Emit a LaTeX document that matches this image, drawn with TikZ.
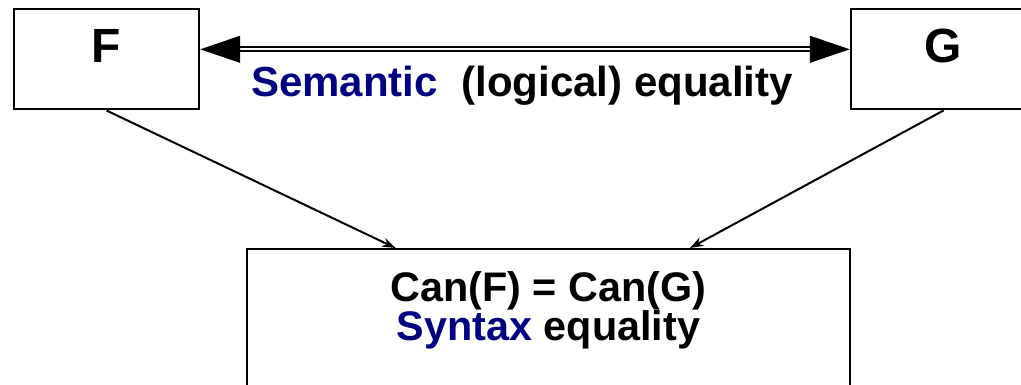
\documentclass[tikz,border=0pt]{standalone}
\usepackage{fontspec}
\setmainfont{Liberation Sans}
\usetikzlibrary{arrows.meta, calc, positioning}
\definecolor{semblue}{RGB}{0,0,128}

\begin{document}
\begin{tikzpicture}[x=0.75pt, y=-0.75pt,
        term/.style={rectangle, draw=black, line width=1.5pt, minimum width=139pt, minimum height=75pt, inner sep=0pt, font=\fontsize{36}{40}\selectfont\bfseries, text height=26.25pt, text depth=21pt},
        canbox/.style={rectangle, draw=black, line width=1.5pt, minimum width=452pt, align=center, inner xsep=0pt, inner ysep=16.5pt, font=\fontsize{31}{29.25}\selectfont\bfseries, text height=51.75pt, text depth=75pt},
        label/.style={inner sep=0pt, font=\fontsize{31.5}{36}\selectfont\bfseries},
        arrow/.style={line width=1.5pt, -{Stealth[length=10pt, width=7pt]}},
        eqarrow/.style={line width=1.5pt, double, double distance=1.5pt, {Triangle[length=30pt, width=20pt]}-{Triangle[length=30pt, width=20pt]}}]

        \useasboundingbox (0,0) rectangle (1021,385);
        \clip (0,0) rectangle (1021,385);

        % Formeln F und G
        \node (F) [term] at (106.5,59.5) {F};
        \node (G) [term] at (943.5,59.5) {G};

        % kanonische Form
        \node (can) [canbox, anchor=north] at (548.5,248) {Can(F) = Can(G)\\\textcolor{semblue}{Syntax} equality};

        % Pfeile
        \draw [eqarrow] ($(F.north east)!0.4!(F.south east)$) -- ($(G.north west)!0.4!(G.south west)$);
        \node (sem) [label, anchor=base west] at (251,97) {\textcolor{semblue}{Semantic}\ \ (logical) equality};
        \draw [arrow] (F.south) -- ($(can.north west)!0.247!(can.north east)$);
        \draw [arrow] (G.south) -- ($(can.north west)!0.734!(can.north east)$);

\end{tikzpicture}
\end{document}
